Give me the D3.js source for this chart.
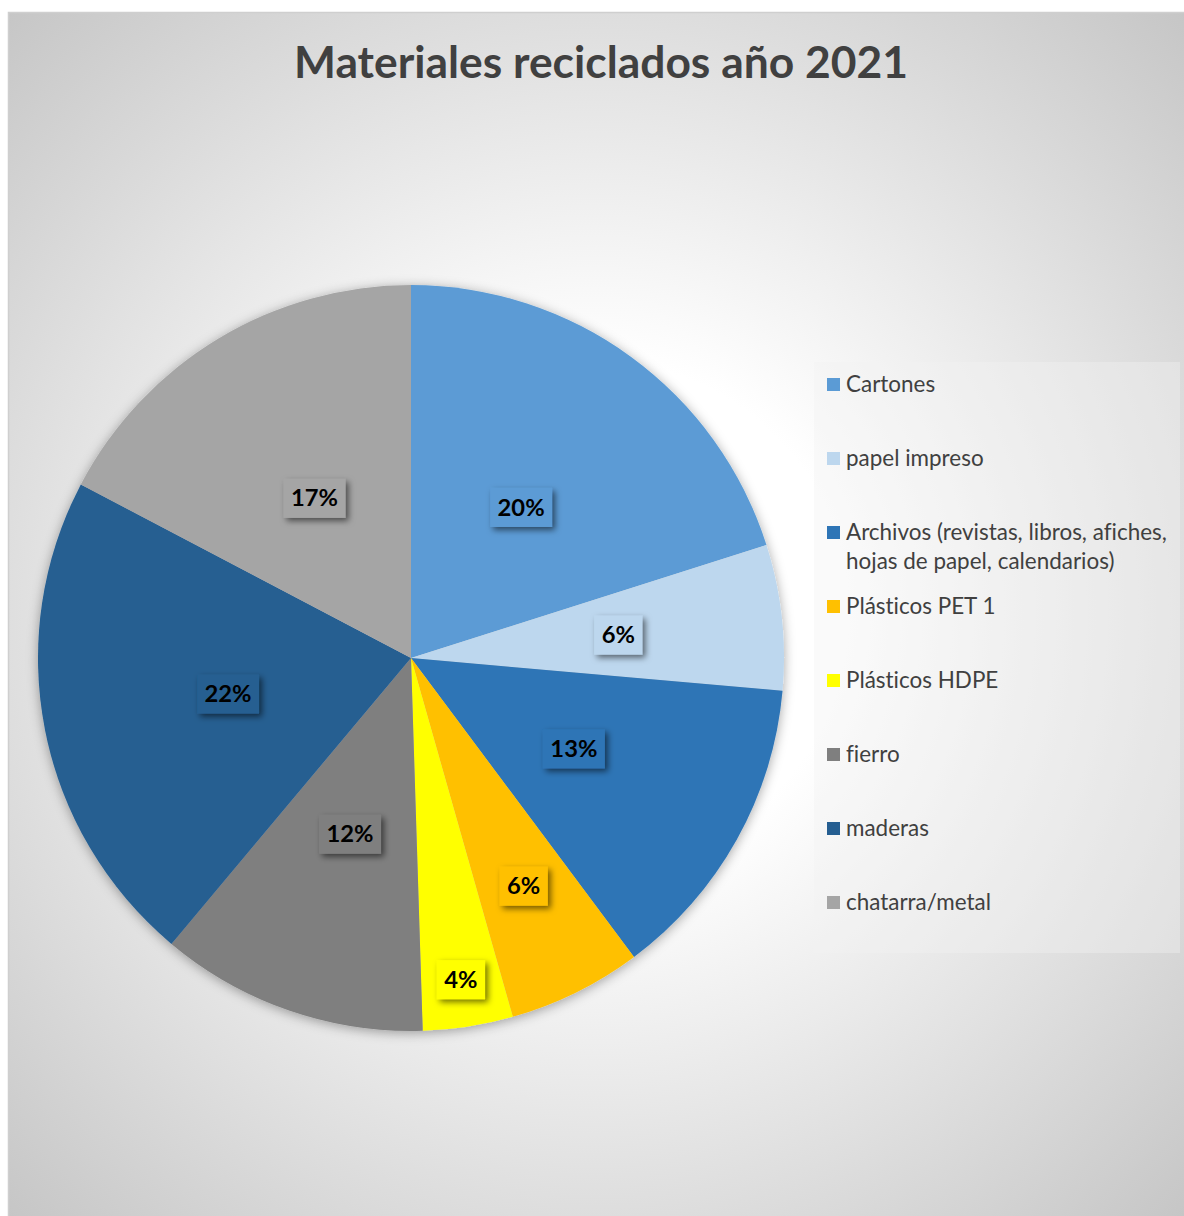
<!DOCTYPE html>
<html>
<head>
<meta charset="utf-8">
<script src="https://cdn.jsdelivr.net/npm/d3@7"></script>
<style>
  body { margin: 0; background: #fff; }
  svg { display: block; }
  text { font-variant-ligatures: none; }
</style>
</head>
<body>
<div id="root"></div>
<script>
const title = 'Materiales reciclados año 2021'
const categories = [
  'Cartones',
  'papel impreso',
  'Archivos (revistas, libros, afiches, hojas de papel, calendarios)',
  'Plásticos PET 1',
  'Plásticos HDPE',
  'fierro',
  'maderas',
  'chatarra/metal'
]
const shares = [20.1, 6.3, 13.4, 5.8, 3.9, 11.6, 21.6, 17.3]
const colors = ['#5b9bd5', '#bdd7ee', '#2e75b6', '#ffc000', '#ffff00', '#7f7f7f', '#255e91', '#a5a5a5']

const w = 1184
const h = 1216
const area = { x: 8, y: 12, w: 1176, h: 1204 }
const cx = 411
const cy = 658
const R = 373
const legendBox = { x: 814, y: 362, w: 366, h: 591 }
const font = 'Lato, "Open Sans", sans-serif'

const data = categories.map((c, i) => ({ name: c, value: shares[i], color: colors[i] }))
const total = d3.sum(data, d => d.value)

const svg = d3.select('#root')
  .append('svg')
  .attr('width', w)
  .attr('height', h)

const defs = svg.append('defs')

const grad = defs.append('radialGradient')
  .attr('id', 'bg')
  .attr('gradientUnits', 'userSpaceOnUse')
  .attr('cx', area.x + area.w / 2)
  .attr('cy', area.y + area.h / 2)
  .attr('r', 841)
grad.append('stop').attr('offset', 0).attr('stop-color', '#ffffff')
grad.append('stop').attr('offset', 0.3).attr('stop-color', '#ffffff')
grad.append('stop').attr('offset', 1).attr('stop-color', '#c6c6c6')

defs.append('filter')
  .attr('id', 'pieShadow')
  .attr('x', '-10%').attr('y', '-10%').attr('width', '120%').attr('height', '120%')
  .append('feDropShadow')
    .attr('dx', 0).attr('dy', 2)
    .attr('stdDeviation', 6)
    .attr('flood-color', '#000')
    .attr('flood-opacity', 0.35)

defs.append('filter')
  .attr('id', 'labelShadow')
  .attr('x', '-30%').attr('y', '-30%').attr('width', '160%').attr('height', '160%')
  .append('feDropShadow')
    .attr('dx', 3).attr('dy', 3)
    .attr('stdDeviation', 3)
    .attr('flood-color', '#000')
    .attr('flood-opacity', 0.55)

// chart area
svg.append('rect')
  .attr('x', area.x + 0.5)
  .attr('y', area.y + 0.5)
  .attr('width', area.w + 20)
  .attr('height', area.h + 20)
  .attr('fill', 'url(#bg)')
  .attr('stroke', '#cfcfcf')
  .attr('stroke-width', 1.5)

// fit a font size so that a sample string gets a given width
function fitSize(str, weight, target) {
  const t = svg.append('text')
    .attr('font-family', font)
    .attr('font-weight', weight)
    .attr('font-size', 40)
    .text(str)
  const len = t.node().getComputedTextLength()
  t.remove()
  return 40 * target / len
}

// title
svg.append('text')
  .attr('x', 601)
  .attr('y', 78)
  .attr('text-anchor', 'middle')
  .attr('font-family', font)
  .attr('font-weight', 700)
  .attr('font-size', fitSize(title, 700, 614))
  .attr('fill', '#404040')
  .text(title)

// pie
const pie = d3.pie().sort(null).value(d => d.value)
const arcs = pie(data)
const arc = d3.arc().innerRadius(0).outerRadius(R)

const pieG = svg.append('g')
  .attr('transform', 'translate(' + cx + ',' + cy + ')')

pieG.append('g')
  .attr('filter', 'url(#pieShadow)')
  .selectAll('path')
  .data(arcs)
  .enter()
  .append('path')
    .attr('d', arc)
    .attr('fill', d => d.data.color)

// data labels, "best fit": push outwards until the box sits inside its wedge
const labelSize = fitSize('20%', 700, 47)
const fmt = d3.format('.0%')

function rayDist(px, py, a) {
  const ux = Math.sin(a)
  const uy = -Math.cos(a)
  const t = px * ux + py * uy
  if (t < 0) return Math.hypot(px, py)
  return Math.abs(px * uy - py * ux)
}

// smallest clearance of the box corners to the wedge edges
function margin(x, y, bw, bh, a0, a1) {
  const corners = [[x - bw / 2, y - bh / 2], [x + bw / 2, y - bh / 2], [x - bw / 2, y + bh / 2], [x + bw / 2, y + bh / 2]]
  return d3.min(corners, ([px, py]) => {
    let a = Math.atan2(px, -py)
    if (a < 0) a += 2 * Math.PI
    if (a < a0 || a > a1) return -1
    return Math.min(R - 12 - Math.hypot(px, py), rayDist(px, py, a0), rayDist(px, py, a1))
  })
}

const labels = pieG.append('g')
  .selectAll('g')
  .data(arcs)
  .enter()
  .append('g')

labels.each(function (d) {
  const g = d3.select(this)
  const txt = g.append('text')
    .attr('text-anchor', 'middle')
    .attr('font-family', font)
    .attr('font-weight', 700)
    .attr('font-size', labelSize)
    .attr('fill', '#000')
    .text(fmt(d.value / total))
  const tw = txt.node().getComputedTextLength()
  const bw = tw + 15
  const bh = 39
  const mid = (d.startAngle + d.endAngle) / 2
  let pos = null
  let best = -Infinity
  let bestPos = null
  for (let r = R * 0.5; r < R * 0.95; r += 1) {
    const x = Math.sin(mid) * r
    const y = -Math.cos(mid) * r
    const m = margin(x, y, bw, bh, d.startAngle, d.endAngle)
    if (m >= 15) { pos = [x, y]; break }
    if (m > best) { best = m; bestPos = [x, y] }
  }
  if (!pos) pos = bestPos
  g.insert('rect', 'text')
    .attr('x', pos[0] - bw / 2)
    .attr('y', pos[1] - bh / 2)
    .attr('width', bw)
    .attr('height', bh)
    .attr('fill', d.data.color)
    .attr('filter', 'url(#labelShadow)')
  txt.attr('x', pos[0]).attr('y', pos[1] + labelSize * 0.34)
})

// legend
const legendSize = fitSize('Archivos (revistas, libros, afiches,', 400, 321)
const legend = svg.append('g')

legend.append('rect')
  .attr('x', legendBox.x)
  .attr('y', legendBox.y)
  .attr('width', legendBox.w)
  .attr('height', legendBox.h)
  .attr('fill', '#f2f2f2')
  .attr('fill-opacity', 0.39)

const textX = legendBox.x + 32
const maxW = legendBox.x + legendBox.w - textX - 6
const rowStep = 74

const items = legend.selectAll('g.item')
  .data(data)
  .enter()
  .append('g')
    .attr('class', 'item')
    .attr('transform', (d, i) => 'translate(0,' + (legendBox.y + 30 + i * rowStep) + ')')

items.append('rect')
  .attr('x', legendBox.x + 13)
  .attr('y', -14)
  .attr('width', 13)
  .attr('height', 13)
  .attr('fill', d => d.color)

items.each(function (d) {
  const t = d3.select(this).append('text')
    .attr('x', textX)
    .attr('font-family', font)
    .attr('font-size', legendSize)
    .attr('fill', '#404040')
  const words = d.name.split(' ')
  let line = []
  let tspan = t.append('tspan').attr('x', textX).attr('dy', 0)
  words.forEach(word => {
    line.push(word)
    tspan.text(line.join(' '))
    if (tspan.node().getComputedTextLength() > maxW && line.length > 1) {
      line.pop()
      tspan.text(line.join(' '))
      line = [word]
      tspan = t.append('tspan').attr('x', textX).attr('dy', 29).text(word)
    }
  })
})
</script>
</body>
</html>
